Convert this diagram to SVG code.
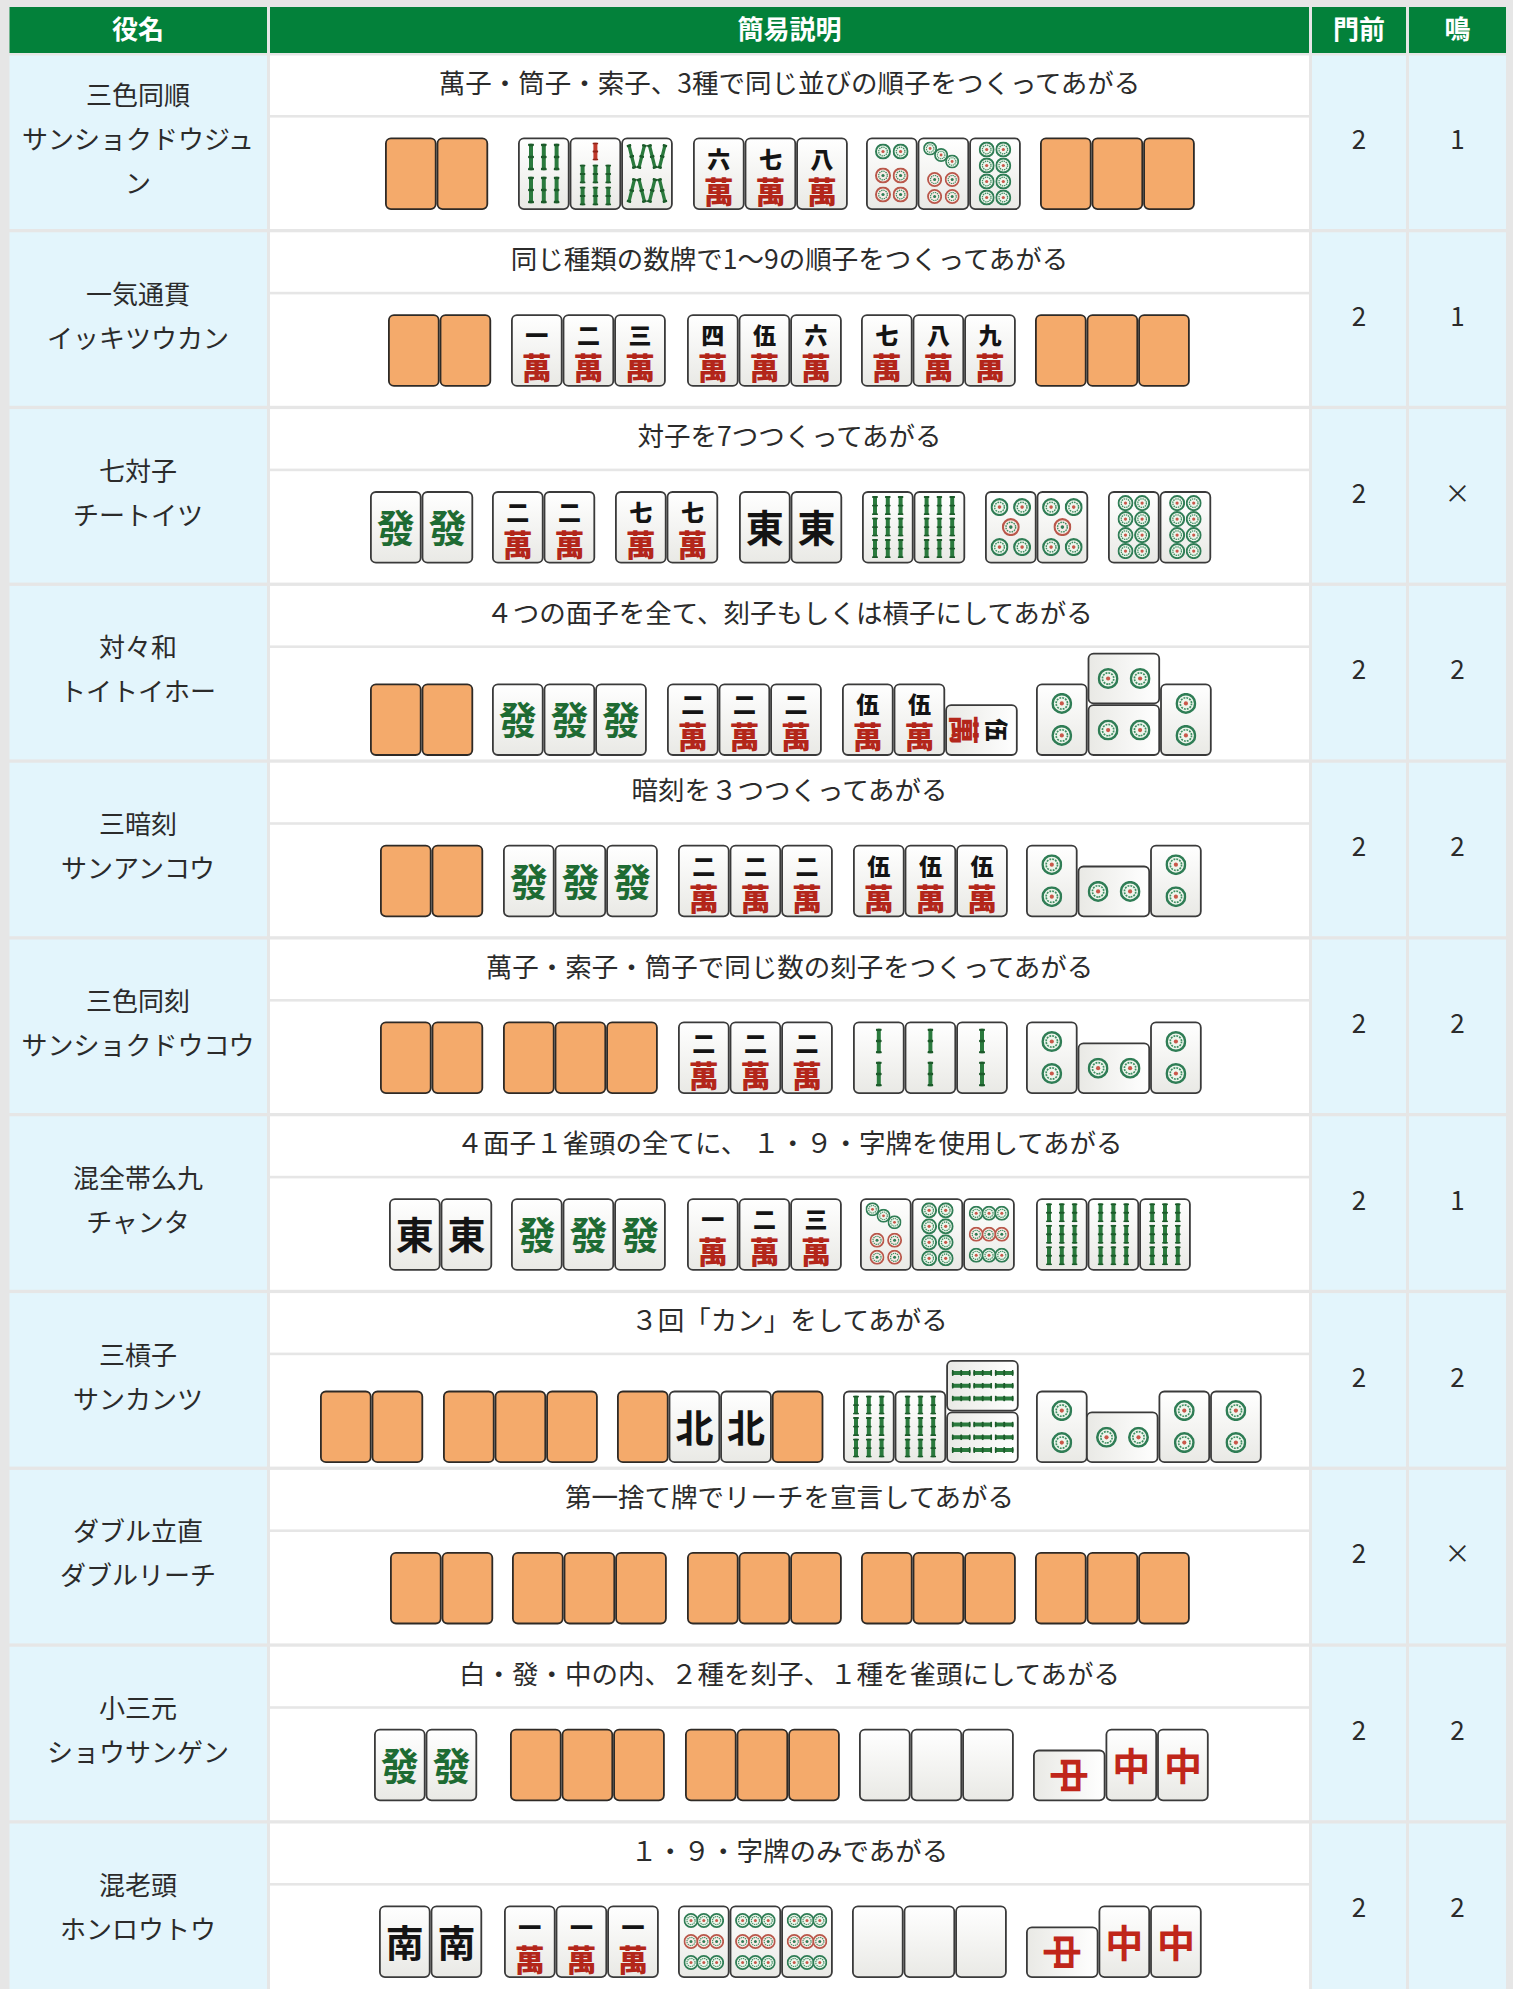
<svg xmlns="http://www.w3.org/2000/svg" xmlns:xlink="http://www.w3.org/1999/xlink" width="1513" height="1989" viewBox="0 0 1513 1989">
<style>
.bg{fill:#e6e6e6}
.hd{fill:#03813a}
.lb{fill:#e3f5fc}
.wh{fill:#ffffff}
.sep{fill:#e6e6e6}
.th{font-family:"Noto Sans CJK JP","Noto Sans",sans-serif;font-size:26px;font-weight:700;fill:#ffffff;text-anchor:middle;dominant-baseline:central;transform:translateY(-3px)}
.t{font-family:"Noto Sans CJK JP","Noto Sans",sans-serif;font-size:26px;fill:#2b2b2b;text-anchor:middle;dominant-baseline:central;transform:translateY(-2.5px)}
.d{font-family:"Noto Sans CJK JP","Noto Sans",sans-serif;font-size:26.5px;fill:#2b2b2b;text-anchor:middle;dominant-baseline:central;transform:translateY(-3.5px)}
.mn{font-family:"Noto Sans CJK JP",sans-serif;font-size:23px;font-weight:900;fill:#141414;text-anchor:middle}
.mw{font-family:"Noto Sans CJK JP",sans-serif;font-size:30px;font-weight:900;fill:#b3261a;text-anchor:middle}
.hz{font-family:"Noto Sans CJK JP",sans-serif;font-size:38px;font-weight:700;text-anchor:middle}
</style>
<defs>
<linearGradient id="fg" x1="0" y1="0" x2="0" y2="1"><stop offset="0" stop-color="#ffffff"/><stop offset="1" stop-color="#e9e9e5"/></linearGradient>
<g id="fr"><rect x="0.9" y="0.9" width="49.8" height="70.7" rx="5" fill="url(#fg)" stroke="#3a3a3a" stroke-width="1.8"/></g>
<g id="bk"><rect x="0.9" y="0.9" width="49.8" height="70.7" rx="5" fill="#f4aa6b" stroke="#2e2a26" stroke-width="1.8"/></g>
<symbol id="pc" viewBox="-10 -10 20 20"><circle r="8.8" fill="#eef5ec" stroke="#2f7d55" stroke-width="2.4"/><circle r="5.4" fill="none" stroke="#3f8f63" stroke-width="1.6" stroke-dasharray="1.8 1"/><circle r="2" fill="#c9584a"/></symbol>
<symbol id="pr" viewBox="-10 -10 20 20"><circle r="8.8" fill="#f8ece8" stroke="#b9574a" stroke-width="2.4"/><circle r="5.4" fill="none" stroke="#3f8f63" stroke-width="1.6" stroke-dasharray="1.8 1"/><circle r="2" fill="#2f7d55"/></symbol>
<symbol id="bs" viewBox="0 0 6 20" preserveAspectRatio="none"><rect x="1" y="0" width="4" height="20" rx="1.5" fill="#2a7a3d"/><rect x="0" y="0" width="6" height="2" rx="1" fill="#1c5a2a"/><rect x="0" y="9" width="6" height="2" rx="1" fill="#1c5a2a"/><rect x="0" y="18" width="6" height="2" rx="1" fill="#1c5a2a"/></symbol>
<symbol id="bsr" viewBox="0 0 6 20" preserveAspectRatio="none"><rect x="1" y="0" width="4" height="20" rx="1.5" fill="#c0392b"/><rect x="0" y="0" width="6" height="2" rx="1" fill="#8e2418"/><rect x="0" y="9" width="6" height="2" rx="1" fill="#8e2418"/><rect x="0" y="18" width="6" height="2" rx="1" fill="#8e2418"/></symbol>
<g id="m1"><use href="#fr"/><text class="mn" x="25.8" y="30">一</text><text class="mw" x="25.8" y="65">萬</text></g>
<g id="m2"><use href="#fr"/><text class="mn" x="25.8" y="30">二</text><text class="mw" x="25.8" y="65">萬</text></g>
<g id="m3"><use href="#fr"/><text class="mn" x="25.8" y="30">三</text><text class="mw" x="25.8" y="65">萬</text></g>
<g id="m4"><use href="#fr"/><text class="mn" x="25.8" y="30">四</text><text class="mw" x="25.8" y="65">萬</text></g>
<g id="m5"><use href="#fr"/><text class="mn" x="25.8" y="30">伍</text><text class="mw" x="25.8" y="65">萬</text></g>
<g id="m6"><use href="#fr"/><text class="mn" x="25.8" y="30">六</text><text class="mw" x="25.8" y="65">萬</text></g>
<g id="m7"><use href="#fr"/><text class="mn" x="25.8" y="30">七</text><text class="mw" x="25.8" y="65">萬</text></g>
<g id="m8"><use href="#fr"/><text class="mn" x="25.8" y="30">八</text><text class="mw" x="25.8" y="65">萬</text></g>
<g id="m9"><use href="#fr"/><text class="mn" x="25.8" y="30">九</text><text class="mw" x="25.8" y="65">萬</text></g>
<g id="hh"><use href="#fr"/><text class="hz" x="25.8" y="51" fill="#1e6b33">發</text></g>
<g id="ht"><use href="#fr"/><text class="hz" x="25.8" y="51" fill="#141414">東</text></g>
<g id="hn"><use href="#fr"/><text class="hz" x="25.8" y="51" fill="#141414">南</text></g>
<g id="hp"><use href="#fr"/><text class="hz" x="25.8" y="51" fill="#141414">北</text></g>
<g id="hc"><use href="#fr"/><text class="hz" x="25.8" y="51" fill="#c0261a">中</text></g>
<g id="hw"><use href="#fr"/></g>
<g id="p2"><use href="#fr"/><use href="#pc" x="15.3" y="9.5" width="21" height="21"/><use href="#pc" x="15.3" y="41.5" width="21" height="21"/></g>
<g id="p5"><use href="#fr"/><use href="#pc" x="5.5" y="7" width="18" height="18"/><use href="#pc" x="28.1" y="7" width="18" height="18"/><use href="#pr" x="16.8" y="27" width="18" height="18"/><use href="#pc" x="5.5" y="47" width="18" height="18"/><use href="#pc" x="28.1" y="47" width="18" height="18"/></g>
<g id="p6"><use href="#fr"/><use href="#pc" x="9" y="6" width="16" height="16"/><use href="#pc" x="26.6" y="6" width="16" height="16"/><use href="#pr" x="9" y="30" width="16" height="16"/><use href="#pr" x="26.6" y="30" width="16" height="16"/><use href="#pr" x="9" y="49" width="16" height="16"/><use href="#pr" x="26.6" y="49" width="16" height="16"/></g>
<g id="p7"><use href="#fr"/><use href="#pc" x="5.5" y="4" width="14" height="14"/><use href="#pc" x="16.5" y="10.5" width="14" height="14"/><use href="#pc" x="27.5" y="17" width="14" height="14"/><use href="#pr" x="9.5" y="34.5" width="15" height="15"/><use href="#pr" x="27.1" y="34.5" width="15" height="15"/><use href="#pr" x="9.5" y="51.5" width="15" height="15"/><use href="#pr" x="27.1" y="51.5" width="15" height="15"/></g>
<g id="p8"><use href="#fr"/><use href="#pc" x="9.5" y="4" width="16" height="16"/><use href="#pc" x="26.1" y="4" width="16" height="16"/><use href="#pc" x="9.5" y="20" width="16" height="16"/><use href="#pc" x="26.1" y="20" width="16" height="16"/><use href="#pc" x="9.5" y="36" width="16" height="16"/><use href="#pc" x="26.1" y="36" width="16" height="16"/><use href="#pc" x="9.5" y="52" width="16" height="16"/><use href="#pc" x="26.1" y="52" width="16" height="16"/></g>
<g id="p9"><use href="#fr"/><use href="#pc" x="5.5" y="7.5" width="15" height="15"/><use href="#pc" x="18.3" y="7.5" width="15" height="15"/><use href="#pc" x="31.1" y="7.5" width="15" height="15"/><use href="#pr" x="5.5" y="28.5" width="15" height="15"/><use href="#pr" x="18.3" y="28.5" width="15" height="15"/><use href="#pr" x="31.1" y="28.5" width="15" height="15"/><use href="#pc" x="5.5" y="49.5" width="15" height="15"/><use href="#pc" x="18.3" y="49.5" width="15" height="15"/><use href="#pc" x="31.1" y="49.5" width="15" height="15"/></g>
<g id="s2"><use href="#fr"/><use href="#bs" x="22.8" y="7" width="6" height="25"/><use href="#bs" x="22.8" y="40" width="6" height="25"/></g>
<g id="s6"><use href="#fr"/><use href="#bs" x="10" y="6" width="6" height="27"/><use href="#bs" x="22.8" y="6" width="6" height="27"/><use href="#bs" x="35.6" y="6" width="6" height="27"/><use href="#bs" x="10" y="39" width="6" height="27"/><use href="#bs" x="22.8" y="39" width="6" height="27"/><use href="#bs" x="35.6" y="39" width="6" height="27"/></g>
<g id="s7"><use href="#fr"/><use href="#bsr" x="22.8" y="5" width="6" height="18"/><use href="#bs" x="10" y="27" width="6" height="19"/><use href="#bs" x="22.8" y="27" width="6" height="19"/><use href="#bs" x="35.6" y="27" width="6" height="19"/><use href="#bs" x="10" y="49" width="6" height="19"/><use href="#bs" x="22.8" y="49" width="6" height="19"/><use href="#bs" x="35.6" y="49" width="6" height="19"/></g>
<g id="s8"><use href="#fr"/>
<use href="#bs" x="-2.5" y="-12.5" width="5" height="25" transform="translate(10.5,19) rotate(-14)"/>
<use href="#bs" x="-2.5" y="-12.5" width="5" height="25" transform="translate(20.5,19) rotate(14)"/>
<use href="#bs" x="-2.5" y="-12.5" width="5" height="25" transform="translate(31,19) rotate(-14)"/>
<use href="#bs" x="-2.5" y="-12.5" width="5" height="25" transform="translate(41,19) rotate(14)"/>
<use href="#bs" x="-2.5" y="-12.5" width="5" height="25" transform="translate(10.5,53) rotate(14)"/>
<use href="#bs" x="-2.5" y="-12.5" width="5" height="25" transform="translate(20.5,53) rotate(-14)"/>
<use href="#bs" x="-2.5" y="-12.5" width="5" height="25" transform="translate(31,53) rotate(14)"/>
<use href="#bs" x="-2.5" y="-12.5" width="5" height="25" transform="translate(41,53) rotate(-14)"/></g>
<g id="s9"><use href="#fr"/><use href="#bs" x="10" y="5" width="6" height="19"/><use href="#bs" x="22.8" y="5" width="6" height="19"/><use href="#bs" x="35.6" y="5" width="6" height="19"/><use href="#bs" x="10" y="26.5" width="6" height="19"/><use href="#bs" x="22.8" y="26.5" width="6" height="19"/><use href="#bs" x="35.6" y="26.5" width="6" height="19"/><use href="#bs" x="10" y="48" width="6" height="19"/><use href="#bs" x="22.8" y="48" width="6" height="19"/><use href="#bs" x="35.6" y="48" width="6" height="19"/></g>
</defs>

<rect class="bg" x="0" y="0" width="1513" height="1989"/>

<g id="header">
<rect class="hd" x="9.5" y="7" width="257.5" height="46"/>
<rect class="hd" x="270" y="7" width="1039" height="46"/>
<rect class="hd" x="1312" y="7" width="94" height="46"/>
<rect class="hd" x="1409" y="7" width="97" height="46"/>
<text class="th" x="138" y="30">役名</text>
<text class="th" x="789.5" y="30">簡易説明</text>
<text class="th" x="1359" y="30">門前</text>
<text class="th" x="1457.5" y="30">鳴</text>
</g>

<g id="grid">
<rect class="lb" x="9.5" y="55.5" width="257.5" height="1934"/>
<rect class="wh" x="270" y="55.5" width="1039" height="1934"/>
<rect class="lb" x="1312" y="55.5" width="94" height="1934"/>
<rect class="lb" x="1409" y="55.5" width="97" height="1934"/>
<rect class="sep" x="0" y="229" width="1513" height="3.3"/>
<rect class="sep" x="0" y="405.8" width="1513" height="3.3"/>
<rect class="sep" x="0" y="582.6" width="1513" height="3.3"/>
<rect class="sep" x="0" y="759.4" width="1513" height="3.3"/>
<rect class="sep" x="0" y="936.2" width="1513" height="3.3"/>
<rect class="sep" x="0" y="1113" width="1513" height="3.3"/>
<rect class="sep" x="0" y="1289.8" width="1513" height="3.3"/>
<rect class="sep" x="0" y="1466.6" width="1513" height="3.3"/>
<rect class="sep" x="0" y="1643.4" width="1513" height="3.3"/>
<rect class="sep" x="0" y="1820.2" width="1513" height="3.3"/>
<rect class="sep" x="270" y="115" width="1039" height="2.6"/>
<rect class="sep" x="270" y="291.8" width="1039" height="2.6"/>
<rect class="sep" x="270" y="468.6" width="1039" height="2.6"/>
<rect class="sep" x="270" y="645.4" width="1039" height="2.6"/>
<rect class="sep" x="270" y="822.2" width="1039" height="2.6"/>
<rect class="sep" x="270" y="999" width="1039" height="2.6"/>
<rect class="sep" x="270" y="1175.8" width="1039" height="2.6"/>
<rect class="sep" x="270" y="1352.6" width="1039" height="2.6"/>
<rect class="sep" x="270" y="1529.4" width="1039" height="2.6"/>
<rect class="sep" x="270" y="1706.2" width="1039" height="2.6"/>
<rect class="sep" x="270" y="1883" width="1039" height="2.6"/>
</g>

<g id="row-sanshoku-doujun">
<text class="t" x="138" y="95.5">三色同順</text>
<text class="t" x="138" y="139.8">サンショクドウジュ</text>
<text class="t" x="138" y="184.3">ン</text>
<text class="d" x="789.5" y="84.5">萬子・筒子・索子、3種で同じ並びの順子をつくってあがる</text>
<text class="t" x="1359" y="140">2</text>
<text class="t" x="1457.5" y="140">1</text>
<use href="#bk" x="385" y="137.5"/><use href="#bk" x="436.6" y="137.5"/>
<use href="#s6" x="518" y="137.5"/><use href="#s7" x="569.6" y="137.5"/><use href="#s8" x="621.2" y="137.5"/>
<use href="#m6" x="693" y="137.5"/><use href="#m7" x="744.6" y="137.5"/><use href="#m8" x="796.2" y="137.5"/>
<use href="#p6" x="866" y="137.5"/><use href="#p7" x="917.6" y="137.5"/><use href="#p8" x="969.2" y="137.5"/>
<use href="#bk" x="1040" y="137.5"/><use href="#bk" x="1091.6" y="137.5"/><use href="#bk" x="1143.2" y="137.5"/>
</g>

<g id="row-ikkitsuukan">
<text class="t" x="138" y="294.8">一気通貫</text>
<text class="t" x="138" y="338.8">イッキツウカン</text>
<text class="d" x="789.5" y="261.3">同じ種類の数牌で1～9の順子をつくってあがる</text>
<text class="t" x="1359" y="316.8">2</text>
<text class="t" x="1457.5" y="316.8">1</text>
<use href="#bk" x="388" y="314.3"/><use href="#bk" x="439.6" y="314.3"/>
<use href="#m1" x="511" y="314.3"/><use href="#m2" x="562.6" y="314.3"/><use href="#m3" x="614.2" y="314.3"/>
<use href="#m4" x="687" y="314.3"/><use href="#m5" x="738.6" y="314.3"/><use href="#m6" x="790.2" y="314.3"/>
<use href="#m7" x="861" y="314.3"/><use href="#m8" x="912.6" y="314.3"/><use href="#m9" x="964.2" y="314.3"/>
<use href="#bk" x="1035" y="314.3"/><use href="#bk" x="1086.6" y="314.3"/><use href="#bk" x="1138.2" y="314.3"/>
</g>

<g id="row-chiitoitsu">
<text class="t" x="138" y="471.6">七対子</text>
<text class="t" x="138" y="515.6">チートイツ</text>
<text class="d" x="789.5" y="438.1">対子を7つつくってあがる</text>
<text class="t" x="1359" y="493.6">2</text>
<text class="t" x="1457.5" y="493.6">×</text>
<use href="#hh" x="370" y="491.1"/><use href="#hh" x="421.6" y="491.1"/>
<use href="#m2" x="492" y="491.1"/><use href="#m2" x="543.6" y="491.1"/>
<use href="#m7" x="615" y="491.1"/><use href="#m7" x="666.6" y="491.1"/>
<use href="#ht" x="739" y="491.1"/><use href="#ht" x="790.6" y="491.1"/>
<use href="#s9" x="862" y="491.1"/><use href="#s9" x="913.6" y="491.1"/>
<use href="#p5" x="985" y="491.1"/><use href="#p5" x="1036.6" y="491.1"/>
<use href="#p8" x="1108" y="491.1"/><use href="#p8" x="1159.6" y="491.1"/>
</g>

<g id="row-toitoihoo">
<text class="t" x="138" y="648.4">対々和</text>
<text class="t" x="138" y="692.4">トイトイホー</text>
<text class="d" x="789.5" y="614.9">４つの面子を全て、刻子もしくは槓子にしてあがる</text>
<text class="t" x="1359" y="670.4">2</text>
<text class="t" x="1457.5" y="670.4">2</text>
<use href="#bk" x="370" y="683.4"/><use href="#bk" x="421.6" y="683.4"/>
<use href="#hh" x="492" y="683.4"/><use href="#hh" x="543.6" y="683.4"/><use href="#hh" x="595.2" y="683.4"/>
<use href="#m2" x="667" y="683.4"/><use href="#m2" x="718.6" y="683.4"/><use href="#m2" x="770.2" y="683.4"/>
<use href="#m5" x="842" y="683.4"/><use href="#m5" x="893.6" y="683.4"/>
<use href="#m5" transform="translate(1017.7,704.3) rotate(90)"/>
<use href="#p2" x="1036" y="683.4"/>
<use href="#p2" transform="translate(1160.1,704.3) rotate(90)"/>
<use href="#p2" transform="translate(1160.1,652.7) rotate(90)"/>
<use href="#p2" x="1160.1" y="683.4"/>
</g>

<g id="row-sanankou">
<text class="t" x="138" y="825.2">三暗刻</text>
<text class="t" x="138" y="869.2">サンアンコウ</text>
<text class="d" x="789.5" y="791.7">暗刻を３つつくってあがる</text>
<text class="t" x="1359" y="847.2">2</text>
<text class="t" x="1457.5" y="847.2">2</text>
<use href="#bk" x="380" y="844.7"/><use href="#bk" x="431.6" y="844.7"/>
<use href="#hh" x="503" y="844.7"/><use href="#hh" x="554.6" y="844.7"/><use href="#hh" x="606.2" y="844.7"/>
<use href="#m2" x="678" y="844.7"/><use href="#m2" x="729.6" y="844.7"/><use href="#m2" x="781.2" y="844.7"/>
<use href="#m5" x="853" y="844.7"/><use href="#m5" x="904.6" y="844.7"/><use href="#m5" x="956.2" y="844.7"/>
<use href="#p2" x="1026" y="844.7"/>
<use href="#p2" transform="translate(1150.1,865.6) rotate(90)"/>
<use href="#p2" x="1150.1" y="844.7"/>
</g>

<g id="row-sanshoku-doukou">
<text class="t" x="138" y="1002">三色同刻</text>
<text class="t" x="138" y="1046">サンショクドウコウ</text>
<text class="d" x="789.5" y="968.5">萬子・索子・筒子で同じ数の刻子をつくってあがる</text>
<text class="t" x="1359" y="1024">2</text>
<text class="t" x="1457.5" y="1024">2</text>
<use href="#bk" x="380" y="1021.5"/><use href="#bk" x="431.6" y="1021.5"/>
<use href="#bk" x="503" y="1021.5"/><use href="#bk" x="554.6" y="1021.5"/><use href="#bk" x="606.2" y="1021.5"/>
<use href="#m2" x="678" y="1021.5"/><use href="#m2" x="729.6" y="1021.5"/><use href="#m2" x="781.2" y="1021.5"/>
<use href="#s2" x="853" y="1021.5"/><use href="#s2" x="904.6" y="1021.5"/><use href="#s2" x="956.2" y="1021.5"/>
<use href="#p2" x="1026" y="1021.5"/>
<use href="#p2" transform="translate(1150.1,1042.4) rotate(90)"/>
<use href="#p2" x="1150.1" y="1021.5"/>
</g>

<g id="row-chanta">
<text class="t" x="138" y="1178.8">混全帯么九</text>
<text class="t" x="138" y="1222.8">チャンタ</text>
<text class="d" x="789.5" y="1145.3">４面子１雀頭の全てに、 １・９・字牌を使用してあがる</text>
<text class="t" x="1359" y="1200.8">2</text>
<text class="t" x="1457.5" y="1200.8">1</text>
<use href="#ht" x="389" y="1198.3"/><use href="#ht" x="440.6" y="1198.3"/>
<use href="#hh" x="511" y="1198.3"/><use href="#hh" x="562.6" y="1198.3"/><use href="#hh" x="614.2" y="1198.3"/>
<use href="#m1" x="687" y="1198.3"/><use href="#m2" x="738.6" y="1198.3"/><use href="#m3" x="790.2" y="1198.3"/>
<use href="#p7" x="860" y="1198.3"/><use href="#p8" x="911.6" y="1198.3"/><use href="#p9" x="963.2" y="1198.3"/>
<use href="#s9" x="1036" y="1198.3"/><use href="#s9" x="1087.6" y="1198.3"/><use href="#s9" x="1139.2" y="1198.3"/>
</g>

<g id="row-sankantsu">
<text class="t" x="138" y="1355.6">三槓子</text>
<text class="t" x="138" y="1399.6">サンカンツ</text>
<text class="d" x="789.5" y="1322.1">３回「カン」をしてあがる</text>
<text class="t" x="1359" y="1377.6">2</text>
<text class="t" x="1457.5" y="1377.6">2</text>
<use href="#bk" x="320" y="1390.6"/><use href="#bk" x="371.6" y="1390.6"/>
<use href="#bk" x="443" y="1390.6"/><use href="#bk" x="494.6" y="1390.6"/><use href="#bk" x="546.2" y="1390.6"/>
<use href="#bk" x="617" y="1390.6"/><use href="#hp" x="668.6" y="1390.6"/><use href="#hp" x="720.2" y="1390.6"/><use href="#bk" x="771.8" y="1390.6"/>
<use href="#s9" x="843" y="1390.6"/><use href="#s9" x="894.6" y="1390.6"/>
<use href="#s9" transform="translate(1018.7,1411.5) rotate(90)"/>
<use href="#s9" transform="translate(1018.7,1359.9) rotate(90)"/>
<use href="#p2" x="1036" y="1390.6"/>
<use href="#p2" transform="translate(1158.5,1411.5) rotate(90)"/>
<use href="#p2" x="1158.5" y="1390.6"/><use href="#p2" x="1210.1" y="1390.6"/>
</g>

<g id="row-double-riichi">
<text class="t" x="138" y="1532.4">ダブル立直</text>
<text class="t" x="138" y="1576.4">ダブルリーチ</text>
<text class="d" x="789.5" y="1498.9">第一捨て牌でリーチを宣言してあがる</text>
<text class="t" x="1359" y="1554.4">2</text>
<text class="t" x="1457.5" y="1554.4">×</text>
<use href="#bk" x="390" y="1551.9"/><use href="#bk" x="441.6" y="1551.9"/>
<use href="#bk" x="512" y="1551.9"/><use href="#bk" x="563.6" y="1551.9"/><use href="#bk" x="615.2" y="1551.9"/>
<use href="#bk" x="687" y="1551.9"/><use href="#bk" x="738.6" y="1551.9"/><use href="#bk" x="790.2" y="1551.9"/>
<use href="#bk" x="861" y="1551.9"/><use href="#bk" x="912.6" y="1551.9"/><use href="#bk" x="964.2" y="1551.9"/>
<use href="#bk" x="1035" y="1551.9"/><use href="#bk" x="1086.6" y="1551.9"/><use href="#bk" x="1138.2" y="1551.9"/>
</g>

<g id="row-shousangen">
<text class="t" x="138" y="1709.2">小三元</text>
<text class="t" x="138" y="1753.2">ショウサンゲン</text>
<text class="d" x="789.5" y="1675.7">白・發・中の内、２種を刻子、１種を雀頭にしてあがる</text>
<text class="t" x="1359" y="1731.2">2</text>
<text class="t" x="1457.5" y="1731.2">2</text>
<use href="#hh" x="374" y="1728.7"/><use href="#hh" x="425.6" y="1728.7"/>
<use href="#bk" x="510" y="1728.7"/><use href="#bk" x="561.6" y="1728.7"/><use href="#bk" x="613.2" y="1728.7"/>
<use href="#bk" x="685" y="1728.7"/><use href="#bk" x="736.6" y="1728.7"/><use href="#bk" x="788.2" y="1728.7"/>
<use href="#hw" x="859" y="1728.7"/><use href="#hw" x="910.6" y="1728.7"/><use href="#hw" x="962.2" y="1728.7"/>
<use href="#hc" transform="translate(1105.5,1749.6) rotate(90)"/>
<use href="#hc" x="1105.5" y="1728.7"/><use href="#hc" x="1157.1" y="1728.7"/>
</g>

<g id="row-honroutou">
<text class="t" x="138" y="1886">混老頭</text>
<text class="t" x="138" y="1930">ホンロウトウ</text>
<text class="d" x="789.5" y="1852.5">１・９・字牌のみであがる</text>
<text class="t" x="1359" y="1908">2</text>
<text class="t" x="1457.5" y="1908">2</text>
<use href="#hn" x="379" y="1905.5"/><use href="#hn" x="430.6" y="1905.5"/>
<use href="#m1" x="504" y="1905.5"/><use href="#m1" x="555.6" y="1905.5"/><use href="#m1" x="607.2" y="1905.5"/>
<use href="#p9" x="678" y="1905.5"/><use href="#p9" x="729.6" y="1905.5"/><use href="#p9" x="781.2" y="1905.5"/>
<use href="#hw" x="852" y="1905.5"/><use href="#hw" x="903.6" y="1905.5"/><use href="#hw" x="955.2" y="1905.5"/>
<use href="#hc" transform="translate(1098.5,1926.4) rotate(90)"/>
<use href="#hc" x="1098.5" y="1905.5"/><use href="#hc" x="1150.1" y="1905.5"/>
</g>
</svg>
